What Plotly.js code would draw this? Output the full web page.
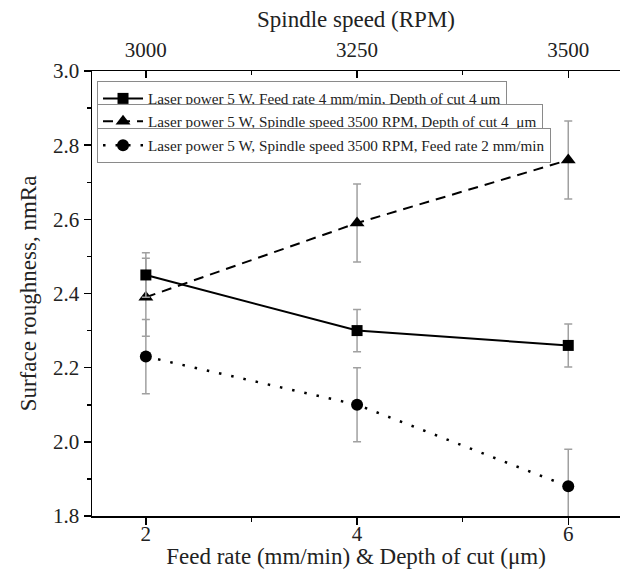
<!DOCTYPE html>
<html>
<head>
<meta charset="utf-8">
<script src="https://cdn.plot.ly/plotly-3.0.1.min.js"></script>
<style>html,body{margin:0;padding:0;background:#fff;}#chart{width:625px;height:569px;}</style>
</head>
<body>
<div id="chart"></div>
<script>
// Series 1: varying spindle speed (top axis)
const spindleSpeed = [3000, 3250, 3500];
const roughSpindle = [2.45, 2.30, 2.26];
const errSpindle = [0.06, 0.057, 0.058];
// Series 2: varying feed rate (bottom axis)
const feedRate = [2, 4, 6];
const roughFeed = [2.39, 2.59, 2.76];
const errFeed = [0.105, 0.105, 0.105];
// Series 3: varying depth of cut (bottom axis)
const depthCut = [2, 4, 6];
const roughDepth = [2.23, 2.10, 1.88];
const errDepth = [0.10, 0.10, 0.10];

const names = [
  'Laser power 5 W, Feed rate 4 mm/min, Depth of cut 4 \u03bcm',
  'Laser power 5 W, Spindle speed 3500 RPM, Depth of cut 4  \u03bcm',
  'Laser power 5 W, Spindle speed 3500 RPM, Feed rate 2 mm/min'
];

const FONT = 'Liberation Serif';
const errStyle = {type: 'data', visible: true, color: '#a0a0a0', thickness: 1.5, width: 4};

const traces = [
  {
    x: spindleSpeed, y: roughSpindle, xaxis: 'x2', yaxis: 'y', name: names[0],
    mode: 'lines+markers', type: 'scatter', legend: 'legend',
    line: {color: '#000', width: 2},
    marker: {symbol: 'square', size: 11, color: '#000'},
    error_y: Object.assign({array: errSpindle}, errStyle)
  },
  {
    x: feedRate, y: roughFeed, xaxis: 'x', yaxis: 'y', name: names[1],
    mode: 'lines+markers', type: 'scatter', legend: 'legend2',
    line: {color: '#000', width: 2, dash: '10px,7px'},
    marker: {symbol: 'triangle-up', size: 13, color: '#000'},
    error_y: Object.assign({array: errFeed}, errStyle)
  },
  {
    x: depthCut, y: roughDepth, xaxis: 'x', yaxis: 'y', name: names[2],
    mode: 'lines+markers', type: 'scatter', legend: 'legend3',
    line: {color: '#000', width: 2.5, dash: '2.5px,10px'},
    marker: {symbol: 'circle', size: 12, color: '#000'},
    error_y: Object.assign({array: errDepth}, errStyle)
  }
];

const legendBase = {
  xanchor: 'left', yanchor: 'top', x: 0.0095,
  bgcolor: '#fff', bordercolor: '#8a8a8a', borderwidth: 1,
  font: {family: FONT, size: 15.2, color: '#222'},
  tracegroupgap: 0, itemwidth: 40
};

const layout = {
  width: 625, height: 569,
  margin: {l: 92, r: 5, t: 71, b: 53},
  paper_bgcolor: '#fff', plot_bgcolor: '#fff',
  font: {family: FONT, color: '#222'},
  showlegend: true,
  legend: Object.assign({}, legendBase, {y: 0.9775}),
  legend2: Object.assign({}, legendBase, {y: 0.926}),
  legend3: Object.assign({}, legendBase, {y: 0.872}),
  xaxis: {
    range: [1.49, 6.49], tick0: 0, dtick: 2,
    showgrid: false, zeroline: false,
    showline: true, linecolor: '#000', linewidth: 1.5,
    ticks: 'outside', ticklen: 7, tickwidth: 1.5, tickcolor: '#000',
    minor: {dtick: 1, ticks: 'outside', ticklen: 4, tickwidth: 1.5, tickcolor: '#000', showgrid: false},
    tickfont: {family: FONT, size: 21, color: '#222'},
    ticklabelstandoff: -9,
    title: {text: 'Feed rate (mm/min) & Depth of cut (\u03bcm)', font: {family: FONT, size: 23, color: '#222'}, standoff: -2}
  },
  xaxis2: {
    overlaying: 'x', side: 'top', anchor: 'y',
    range: [2936.25, 3561.25], tick0: 3000, dtick: 250,
    showgrid: false, zeroline: false,
    showline: true, linecolor: '#000', linewidth: 1.5,
    ticks: 'inside', ticklen: 7, tickwidth: 1.5, tickcolor: '#000',
    minor: {dtick: 125, ticks: 'inside', ticklen: 4, tickwidth: 1.5, tickcolor: '#000', showgrid: false},
    tickfont: {family: FONT, size: 21, color: '#222'},
    ticklabelstandoff: 4,
    title: {text: 'Spindle speed (RPM)', font: {family: FONT, size: 23, color: '#222'}, standoff: 4}
  },
  yaxis: {
    range: [1.8, 3.0], tick0: 1.8, dtick: 0.2, tickformat: '.1f',
    showgrid: false, zeroline: false,
    showline: true, linecolor: '#000', linewidth: 1.5,
    ticks: 'outside', ticklen: 7, tickwidth: 1.5, tickcolor: '#000',
    minor: {dtick: 0.1, ticks: 'outside', ticklen: 4, tickwidth: 1.5, tickcolor: '#000', showgrid: false},
    tickfont: {family: FONT, size: 21, color: '#222'},
    title: {text: 'Surface roughness, nmRa', font: {family: FONT, size: 23, color: '#222'}}
  }
};

Plotly.newPlot('chart', traces, layout, {displayModeBar: false, staticPlot: true});
</script>
</body>
</html>
